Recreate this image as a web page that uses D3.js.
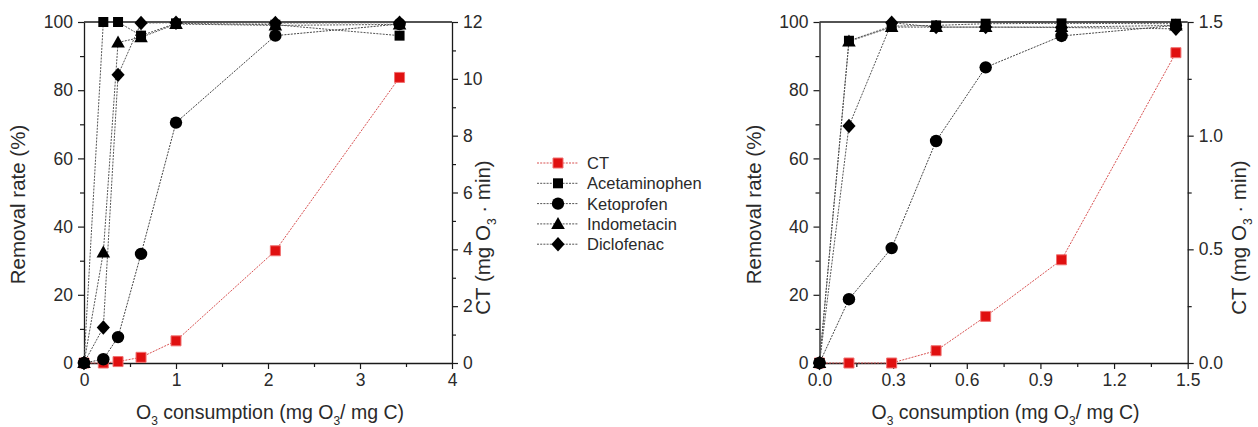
<!DOCTYPE html>
<html><head><meta charset="utf-8">
<script src="https://cdn.jsdelivr.net/npm/d3@7"></script>
<style>
html,body{margin:0;padding:0;background:#fff;}
svg{display:block;font-family:"Liberation Sans",Arial,sans-serif;}
</style></head>
<body>
<svg id="chart" width="1258" height="427"></svg>
<script>
// ---------- Data ----------
const seriesNames = ["CT", "Acetaminophen", "Ketoprofen", "Indometacin", "Diclofenac"];
const seriesSymbols = ["redsquare", "square", "circle", "triangle", "diamond"];

// Left panel
const leftX = [0, 0.21, 0.37, 0.62, 1.0, 2.08, 3.43];
const leftCT = [0, 0, 0.05, 0.2, 0.78, 3.95, 10.05];
const leftAcetaminophen = [0, 100, 100, 96, 99.6, 99.2, 96];
const leftKetoprofen = [0, 1.1, 7.6, 32, 70.5, 96, 99.4];
const leftIndometacin = [0, 32.4, 94, 95.5, 99.4, 99.0, 99.3];
const leftDiclofenac = [0, 10.4, 84.5, 99.7, 99.8, 99.7, 99.8];
const leftXTicks = [0, 1, 2, 3, 4];
const leftXMinor = [0.5, 1.5, 2.5, 3.5];
const leftCTTicks = [0, 2, 4, 6, 8, 10, 12];
const leftCTMinor = [1, 3, 5, 7, 9, 11];

// Right panel
const rightX = [0, 0.12, 0.294, 0.475, 0.677, 0.986, 1.452];
const rightCT = [0, 0, 0, 0.054, 0.205, 0.454, 1.365];
const rightAcetaminophen = [0, 94.5, 98.8, 99.0, 99.5, 99.6, 99.5];
const rightKetoprofen = [0, 18.7, 33.7, 65.1, 86.7, 95.9, 99.0];
const rightIndometacin = [0, 94.3, 98.5, 98.5, 98.5, 98.5, 99.0];
const rightDiclofenac = [0, 69.5, 99.8, 98.5, 98.5, 98.4, 98.0];
const rightXTicks = [0, 0.3, 0.6, 0.9, 1.2, 1.5];
const rightXMinor = [0.15, 0.45, 0.75, 1.05, 1.35];
const rightCTTicks = [0, 0.5, 1.0, 1.5];
const rightCTMinor = [0.25, 0.75, 1.25];

const removalTicks = [0, 20, 40, 60, 80, 100];
const removalMinor = [10, 30, 50, 70, 90];

// ---------- Drawing ----------
const svg = d3.select("#chart");
const AX = "#1a1a1a";
const TXT = "#2a2a2a";

function symbolPath(type, x, y) {
  switch (type) {
    case "square": case "redsquare": {
      const s = 5;
      return `M${x-s},${y-s}h${2*s}v${2*s}h${-2*s}Z`;
    }
    case "circle": {
      const r = 6.2;
      return `M${x-r},${y}a${r},${r} 0 1,0 ${2*r},0a${r},${r} 0 1,0 ${-2*r},0Z`;
    }
    case "triangle": {
      return `M${x},${y-7}L${x+6.8},${y+5}L${x-6.8},${y+5}Z`;
    }
    case "diamond": {
      return `M${x},${y-7.2}L${x+6.6},${y}L${x},${y+7.2}L${x-6.6},${y}Z`;
    }
  }
}

function styleSym(sel, type) {
  if (type === "redsquare") sel.attr("fill", "#e01010").attr("stroke", "#f07070").attr("stroke-width", 1);
  else sel.attr("fill", "#000").attr("stroke", "none");
}

function panel(opts) {
  const {x0, x1, y0, y1, xDomain, ctDomain, xs, ct, removal, xTicks, xMinor, xFmt, ctTicks, ctMinor, ctFmt} = opts;
  const g = svg.append("g");
  const x = d3.scaleLinear().domain(xDomain).range([x0, x1]);
  const y = d3.scaleLinear().domain([0, 100]).range([y1, y0]);
  const yc = d3.scaleLinear().domain(ctDomain).range([y1, y0]);

  // frame top line
  g.append("line").attr("x1", x0).attr("x2", x1).attr("y1", y0).attr("y2", y0)
    .attr("stroke", AX).attr("stroke-width", 1.3);

  function styleAxis(a) {
    a.select(".domain").attr("stroke", AX).attr("stroke-width", 1.3);
    a.selectAll(".tick line").attr("stroke", AX).attr("stroke-width", 1.2);
    a.selectAll(".tick text").attr("fill", TXT).attr("font-size", 17.5)
      .attr("font-family", "Liberation Sans, Arial, sans-serif");
  }

  // bottom axis
  const bx = g.append("g").attr("transform", `translate(0,${y1})`)
    .call(d3.axisBottom(x).tickValues(xTicks).tickFormat(xFmt).tickSize(6).tickSizeOuter(0).tickPadding(5));
  styleAxis(bx);
  const bxm = g.append("g").attr("transform", `translate(0,${y1})`)
    .call(d3.axisBottom(x).tickValues(xMinor).tickFormat("").tickSize(4).tickSizeOuter(0));
  styleAxis(bxm); bxm.select(".domain").remove();

  // left axis
  const ly = g.append("g").attr("transform", `translate(${x0},0)`)
    .call(d3.axisLeft(y).tickValues(removalTicks).tickSize(6).tickSizeOuter(0).tickPadding(5));
  styleAxis(ly);
  const lym = g.append("g").attr("transform", `translate(${x0},0)`)
    .call(d3.axisLeft(y).tickValues(removalMinor).tickFormat("").tickSize(4).tickSizeOuter(0));
  styleAxis(lym); lym.select(".domain").remove();

  // right axis
  const ry = g.append("g").attr("transform", `translate(${x1},0)`)
    .call(d3.axisRight(yc).tickValues(ctTicks).tickFormat(ctFmt).tickSize(6).tickSizeOuter(0).tickPadding(5));
  styleAxis(ry);
  const rym = g.append("g").attr("transform", `translate(${x1},0)`)
    .call(d3.axisRight(yc).tickValues(ctMinor).tickFormat("").tickSize(4).tickSizeOuter(0));
  styleAxis(rym); rym.select(".domain").remove();

  // series
  const allSeries = [
    {vals: ct, scale: yc, type: "redsquare", color: "#d85050"},
    {vals: removal[0], scale: y, type: "square", color: "#555"},
    {vals: removal[1], scale: y, type: "circle", color: "#444"},
    {vals: removal[2], scale: y, type: "triangle", color: "#555"},
    {vals: removal[3], scale: y, type: "diamond", color: "#555"}
  ];
  allSeries.forEach(s => {
    const line = d3.line().x((d, i) => x(xs[i])).y(d => s.scale(d));
    g.append("path").attr("d", line(s.vals)).attr("fill", "none")
      .attr("stroke", s.color).attr("stroke-width", 1).attr("stroke-dasharray", "2,1.2");
  });
  allSeries.forEach(s => {
    s.vals.forEach((v, i) => {
      const p = g.append("path").attr("d", symbolPath(s.type, x(xs[i]), s.scale(v)));
      styleSym(p, s.type);
    });
  });

  // axis titles
  const xt = g.append("text").attr("x", (x0 + x1) / 2 + 2).attr("y", y1 + 56)
    .attr("text-anchor", "middle").attr("font-size", 19.5).attr("fill", TXT);
  xt.append("tspan").text("O");
  xt.append("tspan").text("3").attr("font-size", 12).attr("dy", 6);
  xt.append("tspan").text(" consumption (mg O").attr("dy", -6);
  xt.append("tspan").text("3").attr("font-size", 12).attr("dy", 6);
  xt.append("tspan").text("/ mg C)").attr("dy", -6);

  g.append("text").attr("transform", `translate(${x0 - 59},${(y0 + y1) / 2 + 12}) rotate(-90)`)
    .attr("text-anchor", "middle").attr("font-size", 20.5).attr("fill", TXT).text("Removal rate (%)");

  const ctT = g.append("text").attr("transform", `translate(${x1 + opts.ctTitleOffset},${(y0 + y1) / 2 + 45}) rotate(-90)`)
    .attr("text-anchor", "middle").attr("font-size", 20.5).attr("fill", TXT);
  ctT.append("tspan").text("CT (mg O");
  ctT.append("tspan").text("3").attr("font-size", 12).attr("dy", 6);
  ctT.append("tspan").text("  \u00b7   min)").attr("dy", -6);
}

panel({
  x0: 84, x1: 452, y0: 22, y1: 363,
  xDomain: [0, 4], ctDomain: [0, 12],
  xs: leftX, ct: leftCT,
  removal: [leftAcetaminophen, leftKetoprofen, leftIndometacin, leftDiclofenac],
  xTicks: leftXTicks, xMinor: leftXMinor, xFmt: d3.format("d"),
  ctTicks: leftCTTicks, ctMinor: leftCTMinor, ctFmt: d3.format("d"),
  ctTitleOffset: 38
});

panel({
  x0: 819.5, x1: 1187.7, y0: 22, y1: 363,
  xDomain: [0, 1.5], ctDomain: [0, 1.5],
  xs: rightX, ct: rightCT,
  removal: [rightAcetaminophen, rightKetoprofen, rightIndometacin, rightDiclofenac],
  xTicks: rightXTicks, xMinor: rightXMinor, xFmt: d3.format(".1f"),
  ctTicks: rightCTTicks, ctMinor: rightCTMinor, ctFmt: d3.format(".1f"),
  ctTitleOffset: 58
});

// legend
const leg = svg.append("g");
seriesNames.forEach((name, i) => {
  const yy = 163 + i * 20.3;
  const type = seriesSymbols[i];
  leg.append("line").attr("x1", 537).attr("x2", 578).attr("y1", yy).attr("y2", yy)
    .attr("stroke", type === "redsquare" ? "#d85050" : "#555").attr("stroke-width", 1).attr("stroke-dasharray", "2,1.2");
  const p = leg.append("path").attr("d", symbolPath(type, 558, yy));
  styleSym(p, type);
  leg.append("text").attr("x", 587).attr("y", yy + 6).attr("font-size", 16.5).attr("fill", TXT).text(name);
});
</script>
</body></html>
